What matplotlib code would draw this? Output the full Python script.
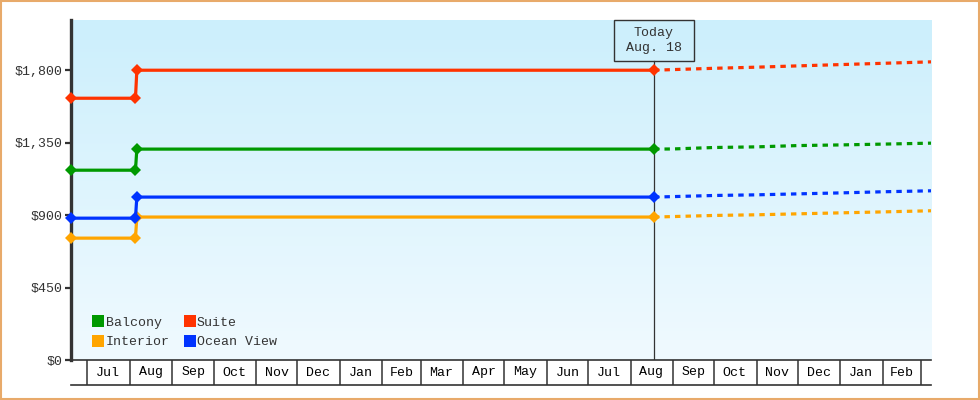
import numpy as np
import matplotlib
matplotlib.use("Agg")
import matplotlib.pyplot as plt
import matplotlib.dates as mdates
from matplotlib.patches import Rectangle
from matplotlib.lines import Line2D

# ---------------- data ----------------
series_names = ["Interior", "Ocean View", "Balcony", "Suite"]
series_colors = ["#FFA500", "#0033FF", "#009900", "#FF3300"]

hist_dates = np.array(["2021-06-19", "2021-08-05", "2021-08-06", "2022-08-18"], dtype="datetime64[D]")
interior_hist = [757, 757, 888, 888]
ocean_hist = [881, 881, 1012, 1012]
balcony_hist = [1179, 1179, 1310, 1310]
suite_hist = [1626, 1626, 1800, 1800]

fc_dates = np.array(["2022-08-18", "2022-09-01", "2022-10-01", "2022-11-01", "2022-12-01",
                     "2023-01-01", "2023-02-01", "2023-03-08"], dtype="datetime64[D]")
interior_fc = [888, 891, 898, 902, 908, 914, 920, 927]
ocean_fc = [1012, 1015, 1022, 1026, 1032, 1038, 1045, 1051]
balcony_fc = [1310, 1311, 1320, 1324, 1332, 1336, 1341, 1347]
suite_fc = [1800, 1804, 1812, 1819, 1827, 1835, 1843, 1852]

month_starts = np.arange(np.datetime64("2021-07"), np.datetime64("2023-04"), dtype="datetime64[M]")
month_labels = ["Jul", "Aug", "Sep", "Oct", "Nov", "Dec", "Jan", "Feb", "Mar", "Apr",
                "May", "Jun", "Jul", "Aug", "Sep", "Oct", "Nov", "Dec", "Jan", "Feb"]

y_ticks = [0, 450, 900, 1350, 1800]
y_tick_labels = ["$0", "$450", "$900", "$1,350", "$1,800"]
y_max = 2112

today = np.datetime64("2022-08-18")
today_label = "Today\nAug. 18"

hist_values = [interior_hist, ocean_hist, balcony_hist, suite_hist]
fc_values = [interior_fc, ocean_fc, balcony_fc, suite_fc]

# ---------------- style ----------------
FONT = "Liberation Mono"
plt.rcParams["font.family"] = [FONT, "DejaVu Sans Mono", "DejaVu Sans"]
FS = 9.5
plt.rcParams["font.size"] = FS
DARK = "#333333"

W, H = 980, 400
fig = plt.figure(figsize=(W / 100, H / 100), dpi=100)
fig.patch.set_facecolor("white")

L, R, T, B = 71, 931, 20, 360
ax = fig.add_axes([L / W, (H - B) / H, (R - L) / W, (B - T) / H])

# gradient background
grad = np.linspace(0, 1, 256).reshape(-1, 1)
top_c = np.array([204, 239, 252]) / 255
bot_c = np.array([240, 250, 255]) / 255
img = top_c[None, None, :] * (1 - grad[:, :, None]) + bot_c[None, None, :] * grad[:, :, None]
ax.imshow(img, extent=[0, 1, 0, 1], transform=ax.transAxes, aspect="auto", zorder=0)

x0 = hist_dates[0]
x1 = fc_dates[-1]

for name, col, hv, fv in zip(series_names, series_colors, hist_values, fc_values):
    ax.plot(fc_dates, fv, color=col, lw=2.3, linestyle=(0, (1.7, 1.6)),
            dash_capstyle="butt", zorder=3)
    ax.plot(hist_dates, hv, color=col, lw=2.3, marker="D", markersize=6,
            markeredgewidth=0, zorder=4, clip_on=False, label=name)

ax.set_xlim(x0, x1)
ax.set_ylim(0, y_max)

box_h = 40.7  # px height of the "Today" box
ax.axvline(today, ymin=0, ymax=1 - box_h / (B - T), color=DARK, lw=0.9, zorder=2)

# spines / ticks
for s in ["top", "right"]:
    ax.spines[s].set_visible(False)
ax.spines["left"].set_linewidth(2.4)
ax.spines["left"].set_color(DARK)
ax.spines["bottom"].set_linewidth(1.2)
ax.spines["bottom"].set_color(DARK)
ax.set_yticks(y_ticks)
ax.set_yticklabels(y_tick_labels)
ax.tick_params(axis="y", direction="out", length=4, width=1.6, color=DARK,
               labelcolor=DARK, pad=2)
ax.set_xticks([])

# legend
handles = [Line2D([], [], marker="s", linestyle="none", color=c, markersize=8, markeredgewidth=0)
           for c in series_colors]
order = [2, 0, 3, 1]  # Balcony, Interior, Suite, Ocean View (column-first)
leg = ax.legend([handles[i] for i in order], [series_names[i] for i in order],
                ncol=2, loc="lower left", bbox_to_anchor=(0.012, 0.0), frameon=False,
                handlelength=0.8, handletextpad=0.15, columnspacing=1.1,
                labelspacing=0.55, borderaxespad=0.5, fontsize=FS)
for t in leg.get_texts():
    t.set_color(DARK)

# month cells row
ax2 = fig.add_axes([L / W, (H - 385) / H, (R - L) / W, 25 / H])
ax2.set_ylim(0, 1)
ax2.set_xticks([])
ax2.set_yticks([])
for s in ["top", "left", "right"]:
    ax2.spines[s].set_visible(False)
ax2.spines["bottom"].set_linewidth(1.2)
ax2.spines["bottom"].set_color(DARK)
ax2.patch.set_alpha(0)
for ms in month_starts:
    ax2.axvline(ms.astype("datetime64[D]"), color=DARK, lw=1.1)
for ms, lab in zip(month_starts[:-1], month_labels):
    d0 = ms.astype("datetime64[D]")
    d1 = (ms + 1).astype("datetime64[D]")
    mid = d0 + (d1 - d0) / 2
    ax2.text(mid, 0.5, lab, ha="center", va="center", color="black", fontsize=FS)
ax2.set_xlim(x0, x1)

# today box (pixel positioned)
fig.canvas.draw()
tx = ax.transData.transform((mdates.date2num(today), 0))[0]
bw = 80
rect = Rectangle((tx - bw / 2, H - T - box_h), bw, box_h, transform=None, fill=False,
                 edgecolor=DARK, lw=1.0, zorder=5)
fig.patches.append(rect)
fig.text(tx / W, (H - T - box_h / 2) / H, today_label, ha="center", va="center",
         color=DARK, fontsize=FS, linespacing=1.35)

# orange border
fig.patches.append(Rectangle((1, 1), W - 2, H - 2, transform=None, fill=False,
                             edgecolor="#E8AA6A", lw=1.5))

fig.savefig("out.png", dpi=100)
